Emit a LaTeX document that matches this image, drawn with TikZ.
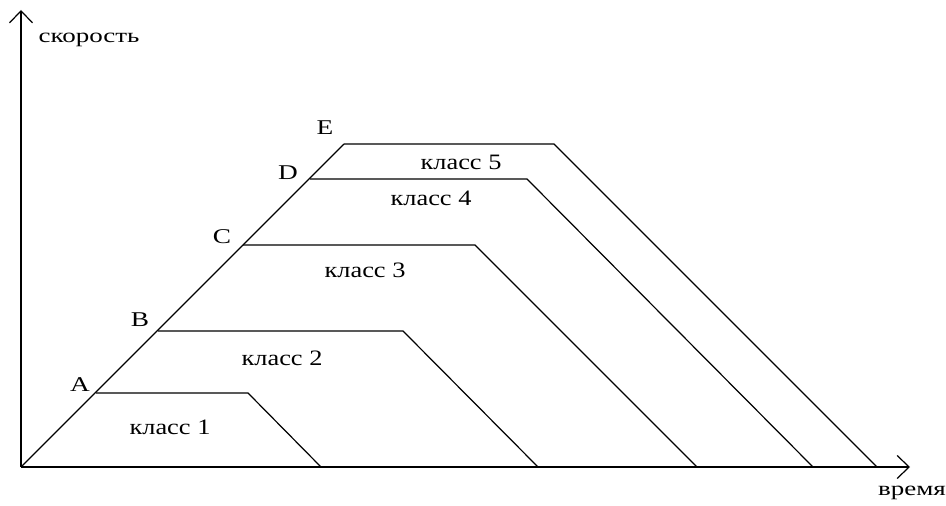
\documentclass[tikz,border=0pt]{standalone}
\usepackage{fontspec}
\setmainfont{Liberation Serif}
\newfontfamily\klassfont[FakeStretch=1.2]{Liberation Serif}
\newfontfamily\pointfont[FakeStretch=1.3]{Liberation Serif}
\newfontfamily\axisfont[FakeStretch=1.35]{Liberation Serif}
\usetikzlibrary{arrows.meta}

\begin{document}
\begin{tikzpicture}[x=1pt,y=1pt,
    axis/.style={line width=1.6pt,-{Straight Barb[length=12pt,width=23pt,line width=1.2pt]}},
    edge/.style={line width=1.2pt},
    klass/.style={font=\klassfont\fontsize{22}{22}\selectfont},
    ptlabel/.style={font=\pointfont\fontsize{21}{21}\selectfont},
    axislabel/.style={font=\axisfont\fontsize{20}{20}\selectfont}]
    \useasboundingbox (0,0) rectangle (946,506);
    % axes
    \coordinate (O) at (21,39);
    \coordinate (ytop) at (21,496);
    \coordinate (xend) at (910,39);
    \draw[axis] (O) -- (ytop);
    \draw[axis] (O) -- (xend);
    \node[axislabel,anchor=west] (v) at (35,466) {скорость};
    \node[axislabel] (t) at (912,13) {время};
    % points on the rising edge
    \coordinate (A) at (96,113);
    \coordinate (B) at (158,175);
    \coordinate (C) at (243,261);
    \coordinate (D) at (310,327);
    \coordinate (E) at (344,362);
    \node[ptlabel] (lA) at (80,121) {A};
    \node[ptlabel] (lB) at (140,186) {B};
    \node[ptlabel] (lC) at (222,269) {C};
    \node[ptlabel] (lD) at (288,333) {D};
    \node[ptlabel] (lE) at (325,378) {E};
    % plateaus and falling edges
    \coordinate (Ar) at (248,113); \coordinate (Ab) at (321,39);
    \coordinate (Br) at (403,175); \coordinate (Bb) at (538,39);
    \coordinate (Cr) at (475,261); \coordinate (Cb) at (697,39);
    \coordinate (Dr) at (527,327); \coordinate (Db) at (813,39);
    \coordinate (Er) at (554,362); \coordinate (Eb) at (877,39);
    \draw[edge] (O) -- (E);
    \draw[edge] (A) -- (Ar) -- (Ab);
    \draw[edge] (B) -- (Br) -- (Bb);
    \draw[edge] (C) -- (Cr) -- (Cb);
    \draw[edge] (D) -- (Dr) -- (Db);
    \draw[edge] (E) -- (Er) -- (Eb);
    % class names
    \node[klass] (k1) at (170,79) {класс 1};
    \node[klass] (k2) at (282,148) {класс 2};
    \node[klass] (k3) at (365,236) {класс 3};
    \node[klass] (k4) at (431,308) {класс 4};
    \node[klass] (k5) at (461,344) {класс 5};
\end{tikzpicture}
\end{document}
